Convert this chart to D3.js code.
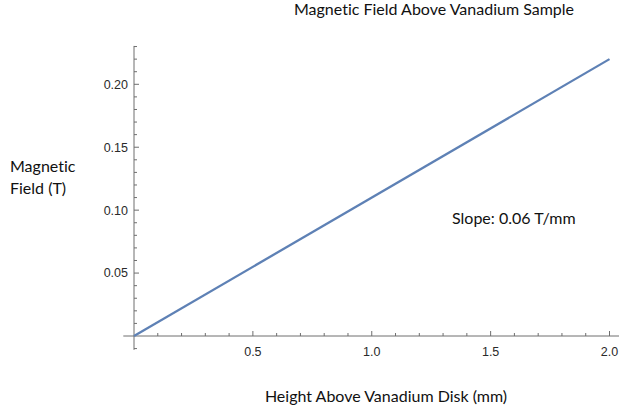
<!DOCTYPE html>
<html>
<head>
<meta charset="utf-8">
<script src="https://cdn.jsdelivr.net/npm/d3@7"></script>
<style>
  html, body { margin: 0; padding: 0; background: #fff; }
  svg { display: block; }
  .lbl { font-family: Lato, "Open Sans", sans-serif; fill: #111; font-variant-ligatures: none; font-feature-settings: "liga" 0; }
  .tick text { font-family: "Liberation Sans", Arial, sans-serif; font-size: 12.5px; fill: #2a2a2a; }
</style>
</head>
<body>
<svg id="chart" width="619" height="413"></svg>
<script>
// Measured field along the sample height
const heightMm = [0, 2.0];
const fieldT = [0, 0.22];
const xMajorTicks = [0.5, 1.0, 1.5, 2.0];
const yMajorTicks = [0.05, 0.10, 0.15, 0.20];
const xMinorTicks = [0.1, 0.2, 0.3, 0.4, 0.6, 0.7, 0.8, 0.9, 1.1, 1.2, 1.3, 1.4, 1.6, 1.7, 1.8, 1.9];
const yMinorTicks = [-0.01, 0.01, 0.02, 0.03, 0.04, 0.06, 0.07, 0.08, 0.09, 0.11, 0.12, 0.13, 0.14, 0.16, 0.17, 0.18, 0.19, 0.21, 0.22, 0.23];

const svg = d3.select("#chart");

const x = d3.scaleLinear().domain([0, 2.0]).range([134, 609.5]);
const y = d3.scaleLinear().domain([0, 0.20]).range([336, 84.3]);

const axisColor = "#6e6e6e";

// X axis through y = 0
const gx = svg.append("g").attr("transform", `translate(0,${y(0)})`);
gx.append("line")
  .attr("x1", x(-0.045)).attr("x2", x(2.04))
  .attr("stroke", axisColor).attr("stroke-width", 1);
gx.selectAll(".minor").data(xMinorTicks).join("line")
  .attr("x1", d => x(d)).attr("x2", d => x(d))
  .attr("y1", 0).attr("y2", -3)
  .attr("stroke", axisColor);
const gxMajor = gx.selectAll(".tick").data(xMajorTicks).join("g")
  .attr("class", "tick")
  .attr("transform", d => `translate(${x(d)},0)`);
gxMajor.append("line").attr("y1", 0).attr("y2", -5).attr("stroke", axisColor);
gxMajor.append("text")
  .attr("y", 20).attr("text-anchor", "middle")
  .text(d => d3.format(".1f")(d));

// Y axis through x = 0
const gy = svg.append("g").attr("transform", `translate(${x(0)},0)`);
gy.append("line")
  .attr("y1", y(-0.011)).attr("y2", y(0.2305))
  .attr("stroke", axisColor).attr("stroke-width", 1);
gy.selectAll(".minor").data(yMinorTicks).join("line")
  .attr("y1", d => y(d)).attr("y2", d => y(d))
  .attr("x1", 0).attr("x2", 3)
  .attr("stroke", axisColor);
const gyMajor = gy.selectAll(".tick").data(yMajorTicks).join("g")
  .attr("class", "tick")
  .attr("transform", d => `translate(0,${y(d)})`);
gyMajor.append("line").attr("x1", 0).attr("x2", 5).attr("stroke", axisColor);
gyMajor.append("text")
  .attr("x", -6).attr("dy", "0.35em").attr("text-anchor", "end")
  .text(d => d3.format(".2f")(d));

// Field line
const line = d3.line().x((d, i) => x(heightMm[i])).y(d => y(d));
svg.append("path")
  .datum(fieldT)
  .attr("d", line)
  .attr("fill", "none")
  .attr("stroke", "#5e81b5")
  .attr("stroke-width", 2.3);

// Labels
svg.append("text").attr("class", "lbl")
  .attr("x", 434).attr("y", 15).attr("text-anchor", "middle")
  .attr("font-size", 16)
  .text("Magnetic Field Above Vanadium Sample");

svg.append("text").attr("class", "lbl")
  .attr("x", 386).attr("y", 402).attr("text-anchor", "middle")
  .attr("font-size", 16)
  .text("Height Above Vanadium Disk (mm)");

const yl = svg.append("text").attr("class", "lbl")
  .attr("x", 10).attr("y", 172).attr("font-size", 16);
yl.append("tspan").attr("x", 10).text("Magnetic");
yl.append("tspan").attr("x", 10).attr("dy", 22).text("Field (T)");

svg.append("text").attr("class", "lbl")
  .attr("x", 452).attr("y", 224).attr("font-size", 16)
  .text("Slope: 0.06 T/mm");
</script>
</body>
</html>
